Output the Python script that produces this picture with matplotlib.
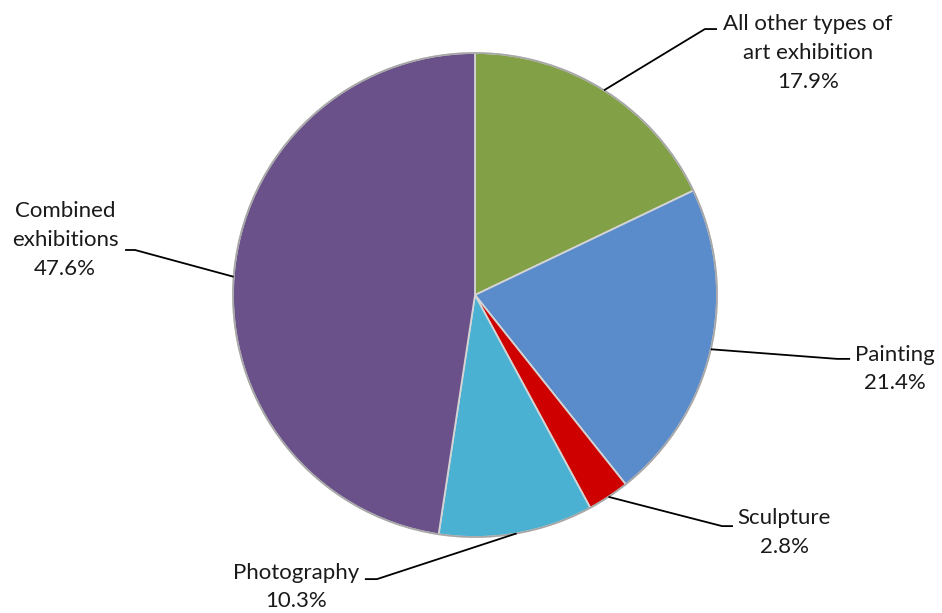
import numpy as np
import matplotlib
matplotlib.use("Agg")
import matplotlib.pyplot as plt

categories = ["All other types of\nart exhibition", "Painting", "Sculpture",
              "Photography", "Combined\nexhibitions"]
shares = [17.9, 21.4, 2.8, 10.3, 47.6]
colors = ["#82A046", "#5A8BCB", "#CF0000", "#4BB1D3", "#6A5189"]

# label layout (data units, radius = 1): text centre, elbow, end of leader
label_pos = [(1.376, 1.0), (1.736, -0.306), (1.277, -0.98), (-0.74, -1.207), (-1.694, 0.227)]
leader_elbow = [(0.950, 1.099), (1.496, -0.264), (1.021, -0.955), (-0.405, -1.174), (-1.405, 0.186)]
leader_end = [(1.0, 1.099), (1.550, -0.264), (1.066, -0.955), (-0.455, -1.174), (-1.446, 0.186)]

plt.rcParams["font.family"] = ["Lato", "DejaVu Sans"]

fig = plt.figure(figsize=(9.42, 6.13), dpi=100)
ax = fig.add_axes([0, 0, 1, 1])

wedges, _ = ax.pie(shares, colors=colors, startangle=90, counterclock=False,
                   radius=1.0, center=(0, 0),
                   wedgeprops=dict(edgecolor="#d4d4d4", linewidth=1.3))

# pie() resets the limits, so set them afterwards
ax.set_xlim(-475 / 242, 467 / 242)
ax.set_ylim(-318 / 242, 295 / 242)
ax.set_aspect("equal")
ax.axis("off")

# slight darker rim for the bevel look
ax.add_patch(plt.Circle((0, 0), 1.0, fill=False, edgecolor="#a6a6a6", linewidth=1.2))

for w, name, val, tp, el, en in zip(wedges, categories, shares, label_pos, leader_elbow, leader_end):
    mid = np.deg2rad((w.theta1 + w.theta2) / 2)
    ax_pt = (np.cos(mid), np.sin(mid))
    ax.plot([ax_pt[0], el[0], en[0]], [ax_pt[1], el[1], en[1]], color="black", lw=1.3,
            solid_capstyle="butt")
    ax.text(tp[0], tp[1], f"{name}\n{val}%", ha="center", va="center",
            fontsize=16, linespacing=1.55, color="#1a1a1a")

fig.savefig("out.png", dpi=100)
